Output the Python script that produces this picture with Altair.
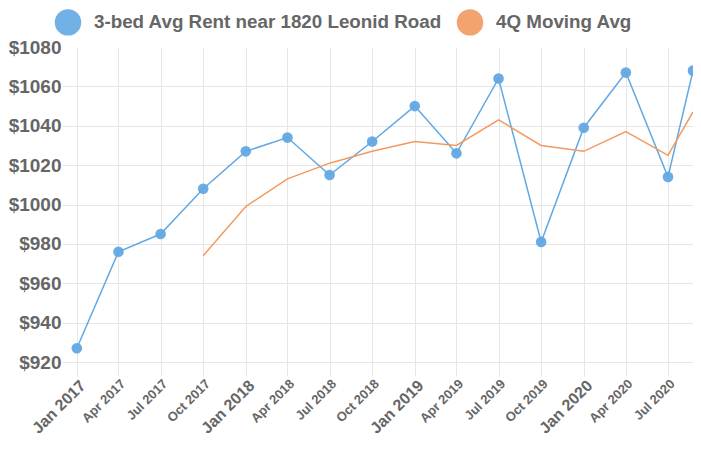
import altair as alt
import pandas as pd

# quarter dates (last observation sits at the right edge of the plot)
dates = ["2017/01/01", "2017/04/01", "2017/07/01", "2017/10/01",
         "2018/01/01", "2018/04/01", "2018/07/01", "2018/10/01",
         "2019/01/01", "2019/04/01", "2019/07/01", "2019/10/01",
         "2020/01/01", "2020/04/01", "2020/07/01", "2020/08/24"]
rent = [927, 976, 985, 1008, 1027, 1034, 1015, 1032,
        1050, 1026, 1064, 981, 1039, 1067, 1014, 1068]
moving_avg = [None, None, None, 974, 999, 1013, 1021, 1027,
              1032, 1030, 1043, 1030, 1027, 1037, 1025, 1047]
tick_dates = dates[:-1]
y_ticks = [920, 940, 960, 980, 1000, 1020, 1040, 1060, 1080]

S1 = "3-bed Avg Rent near 1820 Leonid Road"
S2 = "4Q Moving Avg"
BLUE = "#62a8e2"
ORANGE = "#f29a5e"
GRID = "#e6e6e6"
TEXT = "#666666"
FONT = "Liberation Sans"

rows = []
for d, r, m in zip(dates, rent, moving_avg):
    rows.append({"date": d, "value": r, "series": S1})
    if m is not None:
        rows.append({"date": d, "value": m, "series": S2})
df = pd.DataFrame(rows)
pts = df[df.series == S1]

def dt(s):
    y, mo, da = s.split("/")
    return alt.DateTime(year=int(y), month=int(mo), date=int(da))

xscale = alt.Scale(domain=[dt("2016/11/30"), dt(dates[-1])])
xaxis = alt.Axis(
    values=[dt(s) for s in tick_dates],
    labelExpr="timeFormat(datum.value, '%b %Y')",
    labelAngle=-45,
    labelFontWeight="bold",
    labelFontSize={"condition": {"test": "month(datum.value) == 0", "value": 16}, "value": 13},
    labelColor=TEXT,
    labelFont=FONT,
    labelPadding=1,
    labelOverlap=False,
    tickSize=14,
    tickColor=GRID,
    gridColor=GRID,
    domain=False,
    title=None,
)
yscale = alt.Scale(domain=[920, 1080], nice=False, zero=False)
yaxis = alt.Axis(
    values=y_ticks,
    labelExpr="'$' + datum.value",
    labelFontWeight="bold",
    labelFontSize=19,
    labelColor=TEXT,
    labelFont=FONT,
    labelPadding=1,
    ticks=False,
    domain=False,
    gridColor=GRID,
    gridOpacity={"condition": {"test": "datum.value == 1080", "value": 0}, "value": 1},
    title=None,
)

x = alt.X("date:T", scale=xscale, axis=xaxis)
y = alt.Y("value:Q", scale=yscale, axis=yaxis)

# stroke scale listed in a different order so its (hidden) legend is not merged with the fill legend
lines = alt.Chart(df).mark_line(strokeWidth=1.5, clip=True).encode(
    x=x, y=y,
    stroke=alt.Stroke("series:N", scale=alt.Scale(domain=[S2, S1], range=[ORANGE, BLUE]), legend=None),
)

points = alt.Chart(pts).mark_point(filled=True, size=113, opacity=0.95, clip=True).encode(
    x=x, y=y,
    fill=alt.Fill(
        "series:N",
        scale=alt.Scale(domain=[S1, S2], range=[BLUE, ORANGE]),
        legend=alt.Legend(
            title=None, orient="none", direction="horizontal",
            legendX=-8, legendY=-39, padding=0,
            symbolType="circle", symbolSize=700, symbolOpacity=0.9,
            labelFont=FONT, labelFontSize=18.8, labelFontWeight="bold",
            labelColor=TEXT, labelOffset=12, columnPadding=14, labelLimit=500,
        ),
    ),
)

chart = alt.layer(lines, points).properties(
    width=631, height=315,
    autosize=alt.AutoSizeParams(type="none"),
    padding={"left": 54, "top": 39, "right": 0, "bottom": 79},
).configure_view(stroke=None)

chart.save("out.html", embed_options={"renderer": "svg", "actions": False})
